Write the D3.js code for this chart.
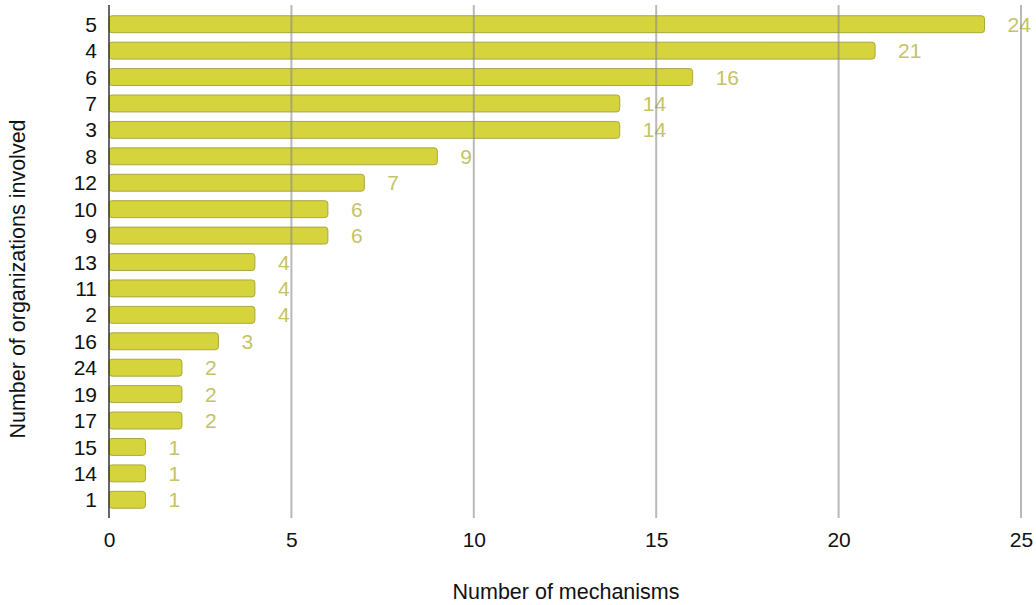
<!DOCTYPE html>
<html>
<head>
<meta charset="utf-8">
<script src="https://cdn.jsdelivr.net/npm/d3@7"></script>
<style>
  html, body { margin: 0; padding: 0; background: #fff; }
  svg { display: block; font-family: "Liberation Sans", Arial, sans-serif; }
</style>
</head>
<body>
<svg id="chart" width="1036" height="605"></svg>
<script>
// Number of organizations involved (category) and number of mechanisms (value)
const categories = ["5", "4", "6", "7", "3", "8", "12", "10", "9", "13", "11", "2", "16", "24", "19", "17", "15", "14", "1"];
const mechanisms = [24, 21, 16, 14, 14, 9, 7, 6, 6, 4, 4, 4, 3, 2, 2, 2, 1, 1, 1];
const xTicks = [0, 5, 10, 15, 20, 25];

const data = categories.map((c, i) => ({ cat: c, value: mechanisms[i] }));

const svg = d3.select("#chart");
const plot = { left: 109, right: 1021, top: 11, bottom: 513 };

const x = d3.scaleLinear().domain([0, 25]).range([plot.left, plot.right]);
const y = d3.scaleBand().domain(categories).range([plot.top, plot.bottom]).paddingInner(0.36).paddingOuter(0.18);

// bars
svg.append("g").selectAll("rect").data(data).join("rect")
  .attr("x", x(0))
  .attr("y", d => y(d.cat))
  .attr("width", d => x(d.value) - x(0))
  .attr("height", y.bandwidth())
  .attr("rx", 3).attr("ry", 3)
  .attr("fill", "#d5d43c")
  .attr("stroke", "#a9a840")
  .attr("stroke-width", 1);

// value labels
svg.append("g").selectAll("text").data(data).join("text")
  .attr("x", d => x(d.value) + 23)
  .attr("y", d => y(d.cat) + y.bandwidth() / 2)
  .attr("dy", "0.36em")
  .attr("font-size", 21)
  .attr("fill", "#c4c366")
  .text(d => d.value);

// vertical gridlines
svg.append("g").selectAll("line").data(xTicks.filter(t => t > 0)).join("line")
  .attr("x1", d => x(d)).attr("x2", d => x(d))
  .attr("y1", 5).attr("y2", 518)
  .attr("stroke", "#8a8a8a")
  .attr("stroke-opacity", 0.6)
  .attr("stroke-width", 2);

// baseline
svg.append("line")
  .attr("x1", x(0)).attr("x2", x(0))
  .attr("y1", 5).attr("y2", 518)
  .attr("stroke", "#333")
  .attr("stroke-width", 1.5);

// x axis tick labels
const xAxis = d3.axisBottom(x).tickValues(xTicks).tickSize(0).tickPadding(0);
const gx = svg.append("g").attr("transform", `translate(0, 547)`).call(xAxis);
gx.select(".domain").remove();
gx.selectAll("text").attr("font-size", 21).attr("fill", "#111")
  .attr("font-family", "Liberation Sans, Arial, sans-serif").attr("dy", 0);

// y axis tick labels
const yAxis = d3.axisLeft(y).tickSize(0).tickPadding(0);
const gy = svg.append("g").attr("transform", `translate(97, 0)`).call(yAxis);
gy.select(".domain").remove();
gy.selectAll("text").attr("font-size", 21).attr("fill", "#111")
  .attr("font-family", "Liberation Sans, Arial, sans-serif").attr("dy", "0.36em");

// axis titles
svg.append("text")
  .attr("x", 566).attr("y", 599)
  .attr("text-anchor", "middle")
  .attr("font-size", 21.5).attr("fill", "#111")
  .text("Number of mechanisms");

svg.append("text")
  .attr("transform", "translate(25, 279) rotate(-90)")
  .attr("text-anchor", "middle")
  .attr("font-size", 21.5).attr("fill", "#111")
  .text("Number of organizations involved");
</script>
</body>
</html>
